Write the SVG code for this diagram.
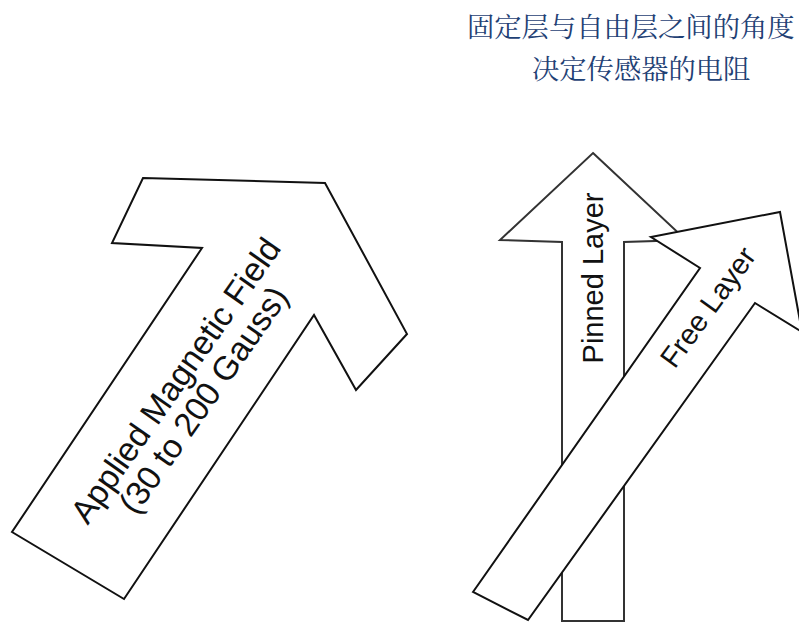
<svg xmlns="http://www.w3.org/2000/svg" width="799" height="622" viewBox="0 0 799 622">
<style>
.shape{fill:#ffffff;stroke:#111111;stroke-width:2;stroke-linejoin:miter}
.pin{fill:#ffffff;stroke:#333333;stroke-width:2}
.lbl{font-family:"Liberation Sans",Arial,Helvetica,sans-serif;fill:#111111}
.cn{font-family:"Noto Serif CJK SC","Noto Sans CJK SC",serif;fill:#1f4175;font-size:27.3px}
</style>
<rect width="799" height="622" fill="#ffffff"/>
<g id="caption">
<text class="cn" x="467" y="37">固定层与自由层之间的角度</text>
<text class="cn" x="532" y="79">决定传感器的电阻</text>
</g>
<g id="applied-field">
<polygon class="shape" points="143,178 325,183 407,334 356,390 314,315 124,599 12,532 202,248 112,243"/>
<text class="lbl" font-size="33.5" text-anchor="middle" transform="translate(185,387) rotate(-55)"><tspan x="0" y="0">Applied Magnetic Field</tspan><tspan x="0" y="34">(30 to 200 Gauss)</tspan></text>
</g>
<g id="pinned-layer">
<polygon class="pin" points="593,153 686,240 624,242 624,621 562,621 562,242 500,240"/>
<text class="lbl" font-size="29" text-anchor="middle" transform="translate(603,278) rotate(-90)">Pinned Layer</text>
</g>
<g id="free-layer">
<polygon class="shape" points="473,592 700,268 651,237 780,212 802,332 755,303 528,620"/>
<text class="lbl" font-size="29" text-anchor="middle" transform="translate(716,313) rotate(-54)">Free Layer</text>
</g>
<g id="connectors"/>
</svg>
